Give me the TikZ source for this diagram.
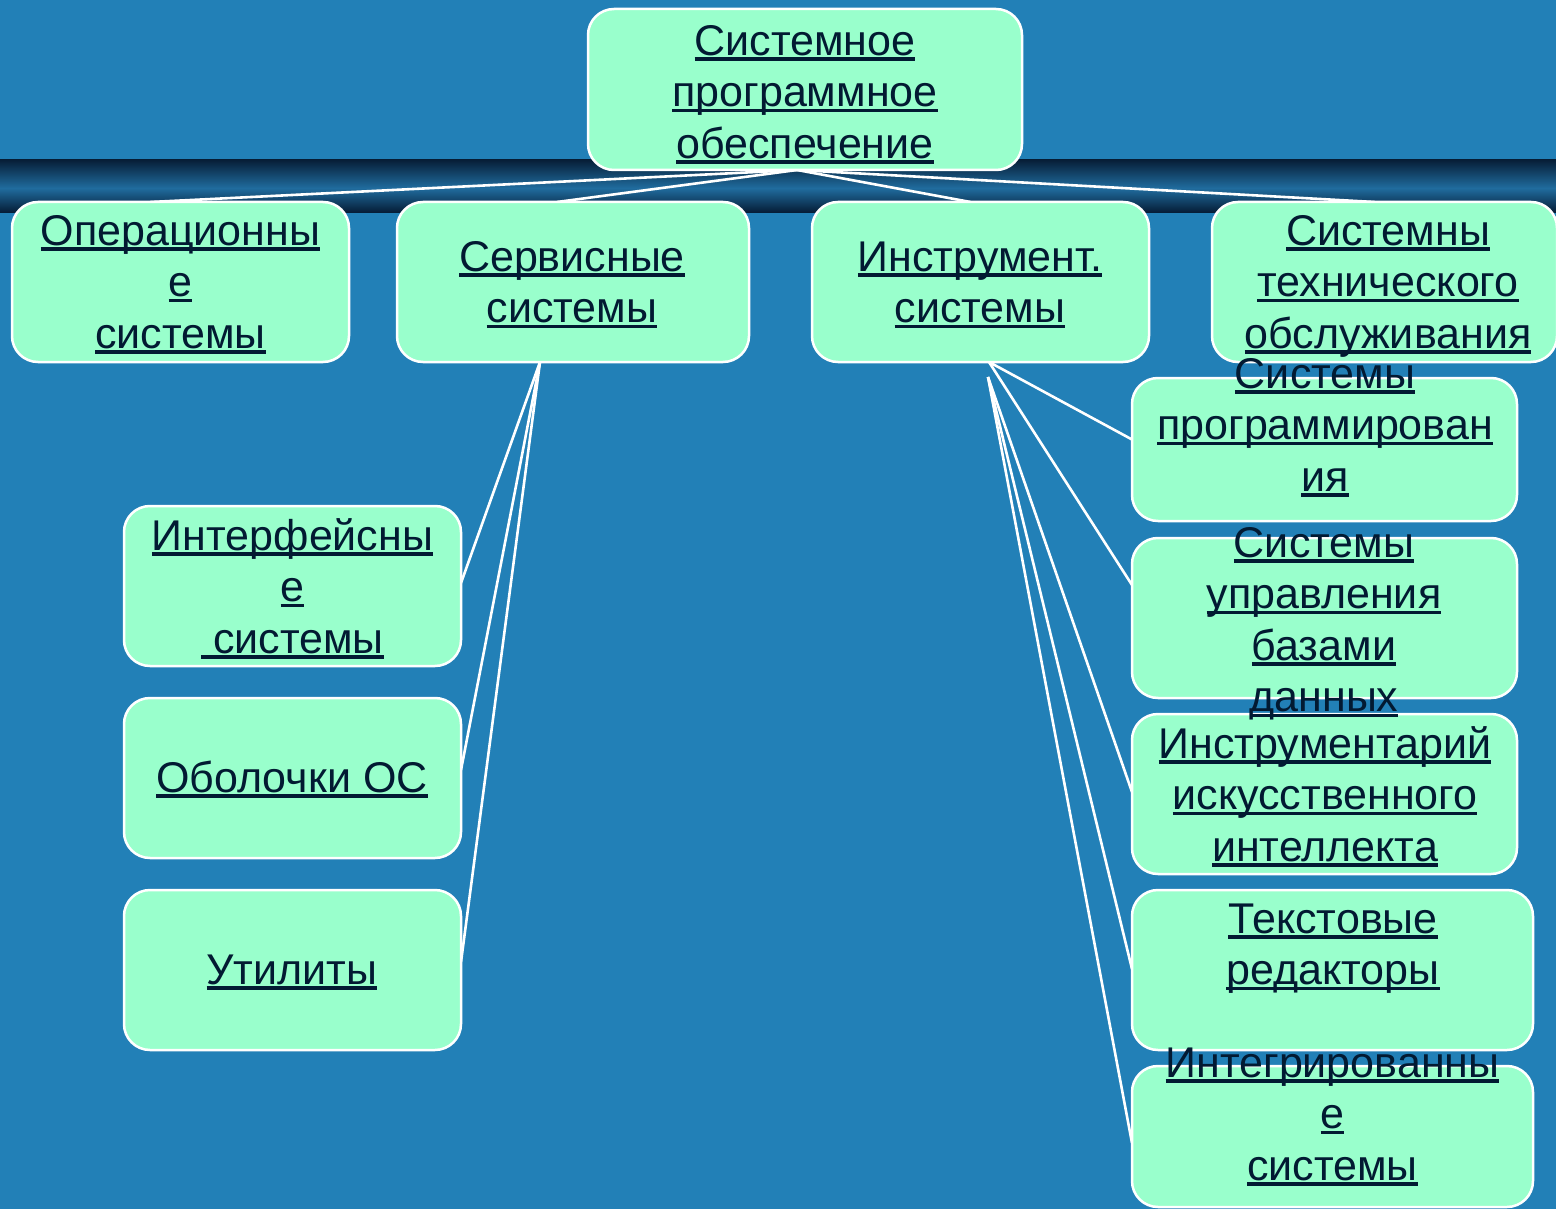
\documentclass[tikz,border=0pt]{standalone}
\usepackage{fontspec}
\setmainfont{Liberation Sans}
\definecolor{bg}{RGB}{34,128,183}
\definecolor{mint}{RGB}{153,255,204}
\definecolor{ink}{RGB}{2,26,50}
\definecolor{bandtop}{RGB}{6,28,52}
\definecolor{bandmid}{RGB}{32,108,158}
\definecolor{bandbot}{RGB}{6,30,56}
\pgfdeclarelayer{backlayer}
\pgfdeclarelayer{linklayer}
\pgfsetlayers{backlayer,linklayer,main}
\newsavebox\myulbox
\newcommand\ulline[1]{\strut\smash{\sbox\myulbox{#1}\rlap{\rule[-5.5pt]{\wd\myulbox}{3.5pt}}\usebox\myulbox}}
\tikzset{
  box/.style={draw=white, line width=2.5pt, fill=mint, rounded corners=26pt,
    inner sep=0pt, outer sep=0pt},
  txt/.style={anchor=north, yshift=36.05pt, inner sep=0pt, align=center,
    text=ink, font=\fontsize{43}{51.5}\selectfont},
  link/.style={draw=white, line width=2.6pt}
}
\begin{document}
\begin{tikzpicture}[x=1pt,y=-1pt]
\begin{pgfonlayer}{backlayer}
\fill[bg] (0,0) rectangle (1556,1209);
\foreach \i in {0,...,53}{
  \pgfmathsetmacro\tt{\i/53}
  \ifdim\tt pt<0.55pt
    \pgfmathsetmacro\pp{100*\tt/0.55}
    \fill[bandmid!\pp!bandtop] (0,159+\i) rectangle (1556,160.2+\i);
  \else
    \pgfmathsetmacro\pp{100*(1-\tt)/0.45}
    \fill[bandmid!\pp!bandbot] (0,159+\i) rectangle (1556,160.2+\i);
  \fi
}
\end{pgfonlayer}
\useasboundingbox (0,0) rectangle (1556,1209);

% boxes
\node[box, minimum width=434pt, minimum height=161pt] (root) at (805,89.5) {};
\node[box, minimum width=337pt, minimum height=160pt] (op) at (180.5,282) {};
\node[box, minimum width=352pt, minimum height=160pt] (serv) at (573,282) {};
\node[box, minimum width=337pt, minimum height=160pt] (instr) at (980.5,282) {};
\node[box, minimum width=345pt, minimum height=160pt] (tech) at (1384.5,282) {};
\node[box, minimum width=337pt, minimum height=160pt] (interf) at (292.5,586) {};
\node[box, minimum width=337pt, minimum height=160pt] (shell) at (292.5,778) {};
\node[box, minimum width=337pt, minimum height=160pt] (util) at (292.5,970) {};
\node[box, minimum width=385pt, minimum height=143pt] (prog) at (1324.5,449.5) {};
\node[box, minimum width=385pt, minimum height=160pt] (db) at (1324.5,618) {};
\node[box, minimum width=385pt, minimum height=160pt] (ai) at (1324.5,794) {};
\node[box, minimum width=401pt, minimum height=160pt] (text) at (1332.5,970) {};
\node[box, minimum width=401pt, minimum height=141pt] (integr) at (1332.5,1136.5) {};

% connectors
\begin{pgfonlayer}{linklayer}
\draw[link] ([xshift=-8pt]root.south) -- ([xshift=-30pt]op.north);
\draw[link] ([xshift=-8pt]root.south) -- ([xshift=-16pt]serv.north);
\draw[link] ([xshift=-8pt]root.south) -- ([xshift=-10pt]instr.north);
\draw[link] ([xshift=-8pt]root.south) -- ([xshift=-10pt]tech.north);
\draw[link] ([xshift=-33pt]serv.south) -- ([yshift=3pt]interf.east);
\draw[link] ([xshift=-33pt]serv.south) -- ([yshift=8pt]shell.east);
\draw[link] ([xshift=-33pt]serv.south) -- ([yshift=8pt]util.east);
\draw[link] ([xshift=8.5pt]instr.south) -- ([yshift=10pt]prog.west);
\draw[link] ([xshift=8.5pt]instr.south) -- ([yshift=33pt]db.west);
\coordinate (ifork) at ([xshift=7.5pt,yshift=-15pt]instr.south);
\draw[link] (ifork) -- ([yshift=2pt]ai.west);
\draw[link] (ifork) -- ([yshift=1pt]text.west);
\draw[link] (ifork) -- ([yshift=-6.5pt]integr.west);
\end{pgfonlayer}

% texts
\node[txt] (root-t) at (805,55) {\ulline{Системное}\\\ulline{программное}\\\ulline{обеспечение}};
\node[txt] (op-t) at (180.5,245) {\ulline{Операционны}\\\ulline{е}\\\ulline{системы}};
\node[txt] (serv-t) at (572,271) {\ulline{Сервисные}\\\ulline{системы}};
\node[txt] (instr-t) at (980,271) {\ulline{Инструмент.}\\\ulline{системы}};
\node[txt] (tech-t) at (1388,245) {\ulline{Системны}\\\ulline{технического}\\\ulline{обслуживания}};
\node[txt] (interf-t) at (292.5,550) {\ulline{Интерфейсны}\\\ulline{е}\\\ulline{\ системы}};
\node[txt] (shell-t) at (292,792) {\ulline{Оболочки ОС}};
\node[txt] (util-t) at (292,984) {\ulline{Утилиты}};
\node[txt] (prog-t) at (1325,388) {\ulline{Системы}\\\ulline{программирован}\\\ulline{ия}};
\node[txt] (db-t) at (1324,557) {\ulline{Системы}\\\ulline{управления}\\\ulline{базами}\\\ulline{данных}};
\node[txt] (ai-t) at (1325,758) {\ulline{Инструментарий}\\\ulline{искусственного}\\\ulline{интеллекта}};
\node[txt] (text-t) at (1333,933) {\ulline{Текстовые}\\\ulline{редакторы}};
\node[txt] (integr-t) at (1332.5,1077) {\ulline{Интегрированны}\\\ulline{е}\\\ulline{системы}};
\end{tikzpicture}
\end{document}
